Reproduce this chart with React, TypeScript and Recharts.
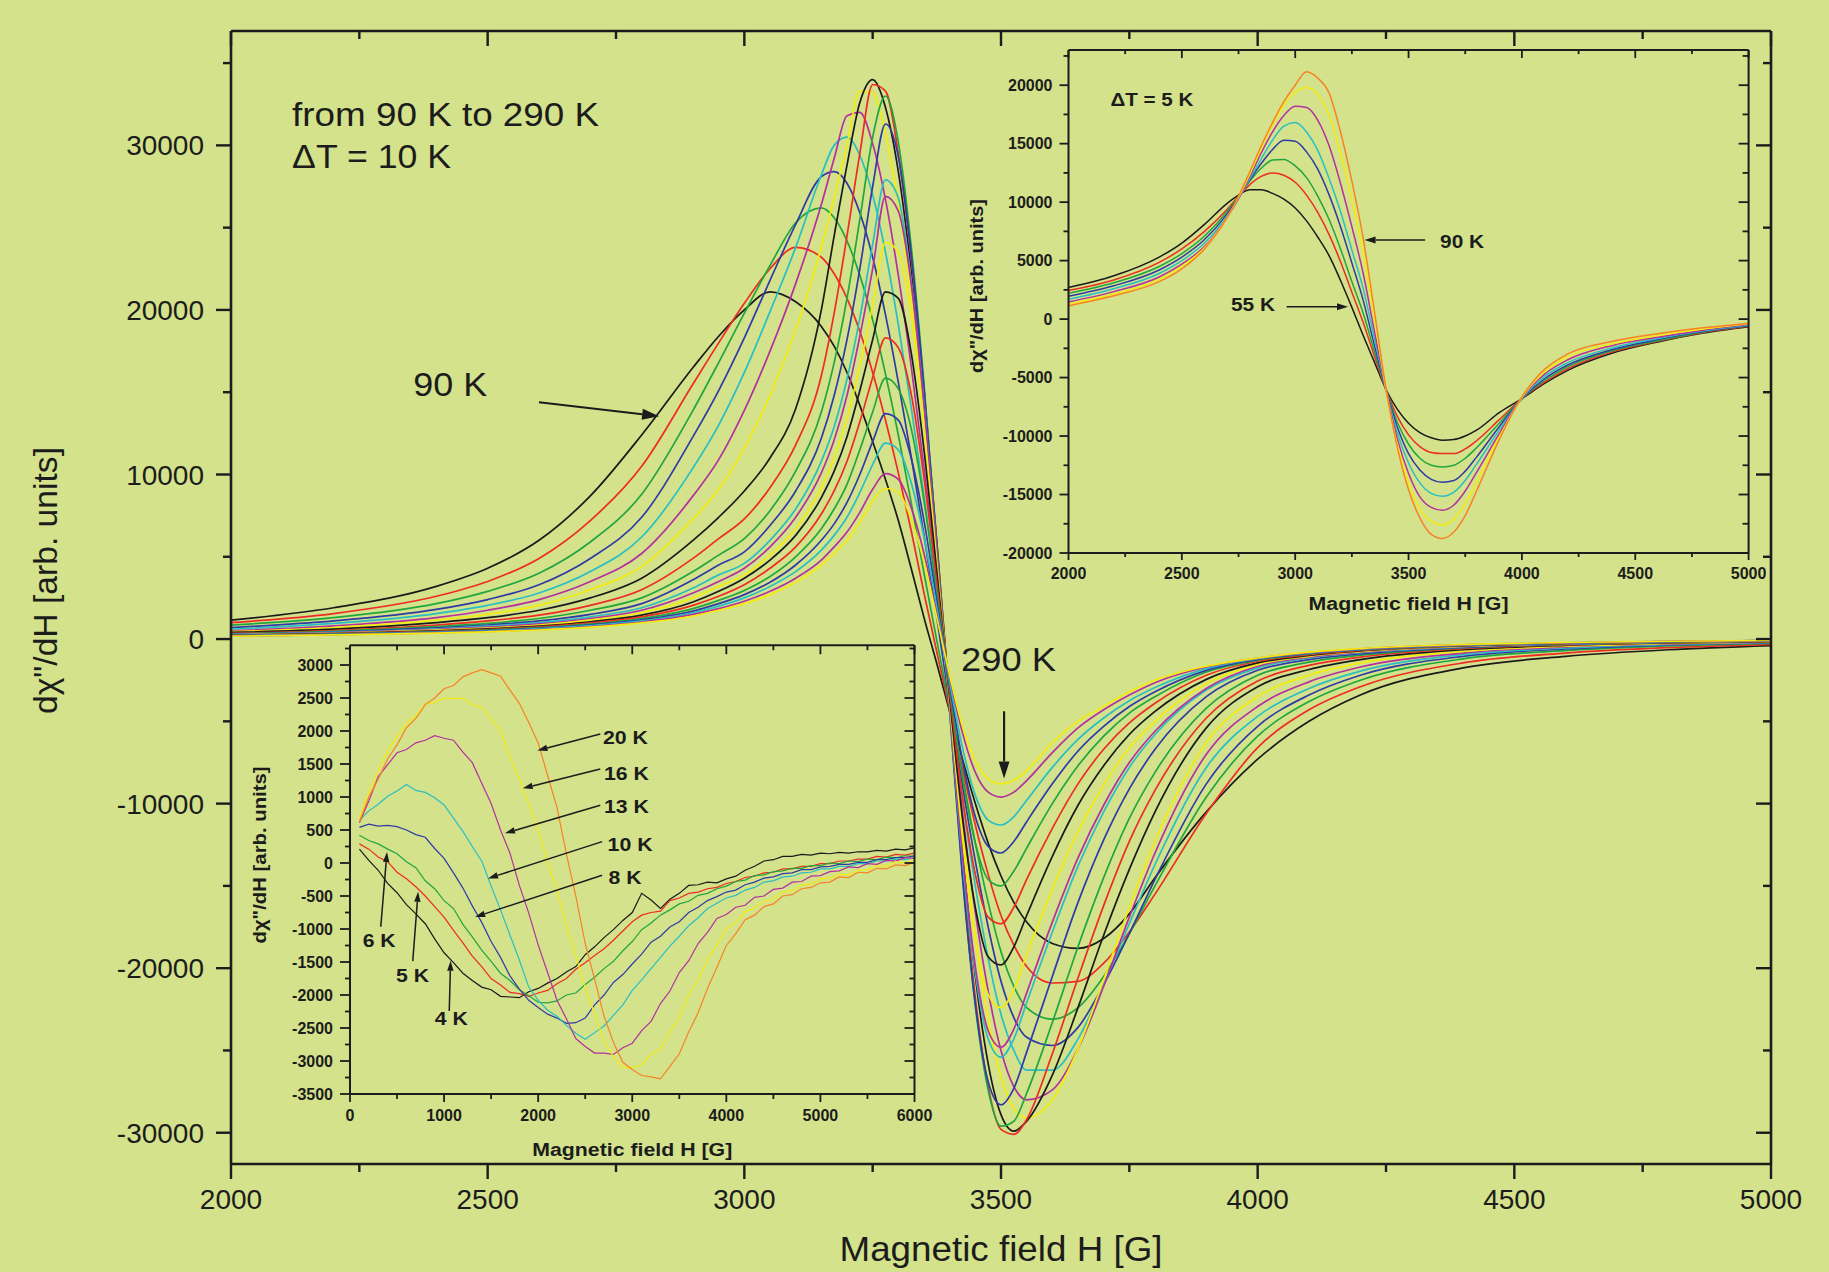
import React from 'react';
import { LineChart, Line, XAxis, YAxis, ReferenceLine, ReferenceDot } from 'recharts';

const BG = '#d3e28b';
const INK = '#1c1c1c';
const FONT = '"Liberation Sans", Arial, Helvetica, sans-serif';

const C_BLACK = '#1a1a1a';
const C_RED = '#ee2b24';
const C_GREEN = '#21a63f';
const C_BLUE = '#2f3aa6';
const C_CYAN = '#28bfc4';
const C_MAGENTA = '#b5309f';
const C_YELLOW = '#f4ec0c';
const C_ORANGE = '#f98224';

// ---------------- main chart data (90 K .. 290 K, step 10 K) ----------------
const mainField = [2000, 2200, 2400, 2500, 2600, 2700, 2800, 2900, 2950, 3000, 3050, 3100, 3150, 3175, 3200, 3225, 3250, 3275, 3300, 3325, 3350, 3375, 3400, 3425, 3450, 3475, 3500, 3525, 3550, 3600, 3650, 3700, 3750, 3800, 3900, 4000, 4100, 4200, 4400, 4600, 4800, 5000];
const t90 = [1150, 1900, 3200, 4300, 6000, 8700, 12400, 16500, 18400, 20000, 21100, 20500, 19000, 17800, 16200, 14200, 12000, 9700, 7200, 4300, 1300, -1500, -4400, -7300, -10000, -12400, -14400, -16000, -17200, -18500, -18800, -18200, -16700, -14500, -10500, -7300, -5000, -3400, -1750, -1050, -650, -400];
const t100 = [1000, 1550, 2600, 3500, 4900, 7200, 10500, 15500, 18000, 20400, 22500, 23800, 23200, 22200, 20700, 18700, 16200, 13300, 10100, 6600, 2800, -800, -4300, -7900, -11300, -14300, -16800, -18600, -19900, -20900, -20800, -19700, -17800, -15500, -10600, -6600, -4300, -2900, -1450, -850, -520, -320];
const t110 = [850, 1300, 2150, 2900, 4000, 5900, 8800, 13900, 16800, 19800, 22700, 25300, 26200, 25600, 24200, 22100, 19400, 16100, 12400, 8300, 4000, -100, -4100, -8300, -12400, -16000, -19000, -21100, -22400, -23100, -22400, -20500, -17900, -15000, -9600, -5900, -3800, -2500, -1200, -700, -420, -260];
const t120 = [700, 1100, 1800, 2400, 3300, 4900, 7400, 12300, 15100, 18300, 21800, 25200, 28100, 28400, 27700, 25900, 23200, 19700, 15600, 11100, 6300, 1300, -3900, -8900, -13500, -17500, -20800, -23000, -24200, -24700, -23600, -21000, -17900, -14600, -8800, -5300, -3400, -2200, -1050, -600, -360, -220];
const t130 = [600, 950, 1550, 2050, 2800, 4100, 6200, 10400, 13000, 16200, 19900, 23800, 28200, 30000, 30500, 29400, 27000, 23500, 19100, 14100, 8700, 2900, -3800, -9800, -15000, -19400, -22800, -25000, -26200, -26200, -24300, -21000, -17300, -13700, -7800, -4700, -3000, -1950, -950, -540, -320, -200];
const t140 = [500, 800, 1300, 1750, 2400, 3500, 5200, 8700, 10900, 13900, 17500, 21600, 26400, 29200, 31800, 32000, 30100, 26700, 22100, 16600, 10400, 3800, -3700, -10600, -16600, -21400, -25000, -27200, -28000, -27400, -24900, -21100, -16900, -13000, -7000, -4100, -2600, -1700, -850, -480, -290, -180];
const t150 = [450, 700, 1150, 1500, 2050, 3000, 4400, 7300, 9100, 11600, 14800, 18800, 23800, 26800, 30000, 33300, 33200, 30700, 26500, 20800, 14000, 5600, -3600, -11600, -18100, -23100, -26600, -28500, -29100, -28000, -24900, -20700, -16300, -12300, -6300, -3500, -2200, -1450, -750, -430, -270, -170];
const t160 = [400, 600, 1000, 1300, 1750, 2500, 3700, 6000, 7400, 9000, 11000, 14000, 20000, 24500, 28800, 32600, 34000, 32300, 28400, 22400, 14800, 5900, -3800, -13000, -20500, -25800, -28900, -29900, -29300, -26500, -22400, -18000, -14000, -10500, -5400, -2900, -1850, -1250, -650, -380, -240, -150];
const t170 = [350, 520, 850, 1100, 1450, 2050, 3000, 4900, 6100, 7300, 9200, 11800, 16000, 19800, 24500, 29500, 33700, 33300, 29500, 23200, 15200, 5800, -4000, -13800, -21800, -27200, -29800, -30100, -29200, -25200, -20600, -16200, -12300, -9200, -4800, -2550, -1600, -1100, -580, -350, -220, -140];
const t180 = [320, 470, 750, 950, 1250, 1750, 2500, 4100, 5100, 6100, 7800, 10200, 13800, 16800, 20700, 25500, 30500, 33000, 30200, 23900, 15500, 5600, -4200, -14300, -22300, -27400, -29600, -29300, -27600, -23300, -18700, -14500, -10900, -8100, -4200, -2200, -1400, -980, -530, -320, -200, -130];
const t190 = [300, 430, 680, 850, 1100, 1500, 2150, 3600, 4500, 5300, 6900, 9000, 12200, 14800, 18200, 22500, 27500, 31300, 29300, 23400, 15200, 5500, -4400, -14500, -22200, -26900, -28300, -27300, -25100, -20500, -16000, -12200, -9100, -6700, -3500, -1900, -1250, -900, -500, -300, -190, -120];
const t200 = [280, 400, 620, 780, 1000, 1350, 1900, 3100, 3900, 4600, 6000, 7900, 10800, 12900, 15800, 19500, 24000, 27900, 26800, 21800, 14300, 5200, -4200, -13400, -20300, -24300, -25400, -24300, -22100, -17800, -13800, -10500, -7800, -5800, -3100, -1750, -1150, -830, -470, -290, -180, -115];
const t210 = [260, 380, 580, 720, 920, 1250, 1750, 2800, 3500, 4300, 5600, 7400, 10100, 12100, 14800, 18400, 22500, 26900, 26000, 21600, 14200, 5100, -4100, -13100, -19900, -23800, -24800, -23700, -21500, -17200, -13300, -10100, -7500, -5600, -3000, -1650, -1100, -800, -450, -280, -175, -110];
const t220 = [240, 350, 540, 670, 850, 1150, 1600, 2500, 3200, 3900, 5100, 6700, 9200, 11000, 13400, 16600, 20300, 24100, 23500, 19700, 13000, 4700, -3900, -12100, -18200, -21600, -22400, -21300, -19200, -15200, -11700, -8900, -6600, -5000, -2700, -1550, -1050, -760, -430, -270, -170, -105];
const t230 = [230, 330, 500, 620, 790, 1050, 1450, 2250, 2900, 3700, 4800, 6300, 8600, 10200, 12300, 15100, 18200, 21100, 20700, 17400, 11500, 4100, -3600, -10900, -16300, -19300, -19800, -18700, -16800, -13200, -10100, -7700, -5800, -4400, -2450, -1450, -1000, -720, -410, -260, -165, -100];
const t240 = [220, 310, 470, 580, 740, 980, 1350, 2050, 2600, 3300, 4300, 5600, 7600, 9000, 10800, 13200, 15900, 18300, 17700, 14900, 9800, 3400, -3300, -9600, -14300, -16900, -17300, -16300, -14600, -11500, -8800, -6700, -5100, -3900, -2200, -1350, -950, -690, -400, -250, -160, -100];
const t250 = [210, 300, 440, 540, 690, 910, 1250, 1850, 2350, 2950, 3800, 5000, 6700, 7900, 9400, 11500, 13800, 15850, 15200, 12800, 8400, 2800, -3000, -8400, -12400, -14600, -15000, -14100, -12700, -10000, -7700, -5900, -4500, -3500, -2000, -1280, -900, -660, -385, -245, -155, -95];
const t260 = [200, 290, 420, 510, 650, 860, 1170, 1700, 2150, 2700, 3450, 4500, 6000, 7000, 8300, 10000, 12000, 13700, 13300, 11000, 7200, 2300, -2800, -7400, -10800, -12600, -13000, -12300, -11100, -8800, -6800, -5300, -4100, -3200, -1900, -1230, -870, -640, -375, -240, -150, -95];
const t270 = [190, 270, 400, 490, 620, 810, 1100, 1600, 2000, 2500, 3200, 4100, 5400, 6300, 7400, 8900, 10600, 11900, 11500, 9500, 6200, 1900, -2600, -6600, -9500, -11000, -11300, -10800, -9800, -7800, -6100, -4800, -3750, -2950, -1800, -1190, -850, -620, -365, -235, -150, -90];
const t280 = [180, 260, 380, 460, 580, 760, 1030, 1500, 1850, 2300, 2900, 3700, 4800, 5600, 6500, 7700, 9100, 10050, 9700, 8000, 5200, 1500, -2300, -5700, -8100, -9300, -9600, -9300, -8600, -6900, -5400, -4300, -3400, -2650, -1700, -1160, -830, -600, -350, -230, -145, -90];
const t290 = [170, 250, 360, 440, 550, 720, 980, 1400, 1750, 2150, 2700, 3450, 4500, 5200, 6000, 7100, 8400, 9150, 8900, 7300, 4700, 1300, -2200, -5300, -7400, -8500, -8800, -8600, -8000, -6300, -5000, -4100, -3200, -2500, -1650, -1150, -800, -580, -330, -210, -135, -85];

const mainTemps = [90, 100, 110, 120, 130, 140, 150, 160, 170, 180, 190, 200, 210, 220, 230, 240, 250, 260, 270, 280, 290];
const mainValues = [t90, t100, t110, t120, t130, t140, t150, t160, t170, t180, t190, t200, t210, t220, t230, t240, t250, t260, t270, t280, t290];
const cycle7 = [C_BLACK, C_RED, C_GREEN, C_BLUE, C_CYAN, C_MAGENTA, C_YELLOW];

const mainXTicks = [2000, 2250, 2500, 2750, 3000, 3250, 3500, 3750, 4000, 4250, 4500, 4750, 5000];
const mainYTicks = [-30000, -25000, -20000, -15000, -10000, -5000, 0, 5000, 10000, 15000, 20000, 25000, 30000, 35000];

// ---------------- top-right inset (55 K .. 90 K, step 5 K) ----------------
const insetField = [2000, 2200, 2400, 2500, 2600, 2700, 2750, 2800, 2850, 2900, 2950, 3000, 3050, 3100, 3150, 3200, 3250, 3300, 3350, 3400, 3450, 3500, 3550, 3600, 3650, 3700, 3750, 3800, 3900, 4000, 4100, 4200, 4400, 4600, 4800, 5000];
const i55 = [2700, 3700, 5300, 6500, 8100, 9900, 10600, 11050, 11050, 10750, 10250, 9500, 8400, 7000, 5400, 3300, 1000, -1400, -3700, -6000, -7700, -8900, -9700, -10150, -10350, -10300, -10000, -9500, -8000, -6800, -5500, -4400, -2900, -1950, -1200, -650];
const i60 = [2450, 3350, 4850, 6000, 7500, 9400, 10500, 11500, 12200, 12500, 12300, 11700, 10600, 9100, 7200, 4900, 2300, -300, -3200, -6000, -8300, -9900, -10900, -11400, -11500, -11500, -11100, -10400, -8600, -6800, -5400, -4250, -2800, -1900, -1150, -620];
const i65 = [2200, 3100, 4500, 5600, 7100, 9200, 10500, 11800, 12900, 13600, 13650, 13100, 12100, 10500, 8500, 6000, 3200, 500, -2800, -6000, -8800, -10700, -11900, -12500, -12650, -12500, -11900, -11000, -8900, -6800, -5250, -4100, -2700, -1850, -1100, -580];
const i70 = [1960, 2850, 4200, 5300, 6800, 9000, 10400, 11900, 13300, 14500, 15300, 15200, 14300, 12800, 10600, 7900, 4800, 1600, -2300, -6000, -9200, -11500, -12900, -13700, -13950, -13800, -13000, -11800, -9200, -6800, -5100, -3950, -2600, -1750, -1050, -540];
const i75 = [1700, 2600, 3900, 5000, 6500, 8800, 10300, 12000, 13700, 15300, 16500, 16800, 16000, 14400, 12000, 9200, 5900, 2600, -1700, -6000, -9700, -12300, -14000, -14900, -15150, -14800, -13800, -12400, -9500, -6750, -4900, -3750, -2450, -1650, -1000, -500];
const i80 = [1470, 2350, 3600, 4700, 6200, 8700, 10300, 12200, 14200, 16000, 17400, 18200, 18100, 17000, 14800, 11600, 7900, 3900, -1100, -6000, -10200, -13200, -15200, -16100, -16350, -15900, -14700, -13100, -9800, -6700, -4700, -3500, -2250, -1550, -950, -450];
const i85 = [1300, 2150, 3400, 4500, 6100, 8700, 10400, 12400, 14600, 16600, 18300, 19400, 19800, 19200, 17400, 14200, 10200, 5700, 0, -6000, -10700, -14000, -16200, -17300, -17600, -17100, -15800, -13900, -10100, -6700, -4500, -3250, -2100, -1400, -850, -400];
const i90 = [1150, 2000, 3200, 4300, 6000, 8700, 10500, 12600, 14800, 16800, 18600, 20000, 21150, 20600, 19300, 16000, 11800, 6900, 600, -5900, -10900, -14600, -17000, -18400, -18750, -18200, -16800, -14700, -10300, -6650, -4300, -3000, -1900, -1250, -750, -350];
const insetTemps = [55, 60, 65, 70, 75, 80, 85, 90];
const insetValues = [i55, i60, i65, i70, i75, i80, i85, i90];
const insetColors = [C_BLACK, C_RED, C_GREEN, C_BLUE, C_CYAN, C_MAGENTA, C_YELLOW, C_ORANGE];
const insetXTicks = [2000, 2250, 2500, 2750, 3000, 3250, 3500, 3750, 4000, 4250, 4500, 4750, 5000];
const insetYTicks = [-20000, -17500, -15000, -12500, -10000, -7500, -5000, -2500, 0, 2500, 5000, 7500, 10000, 12500, 15000, 17500, 20000, 22500];

// ---------------- bottom-left inset (4 K .. 20 K) ----------------
const lowField = [100, 200, 300, 400, 500, 600, 700, 800, 900, 1000, 1100, 1200, 1300, 1400, 1500, 1600, 1700, 1800, 1900, 2000, 2100, 2200, 2300, 2400, 2500, 2600, 2700, 2800, 2900, 3000, 3100, 3200, 3300, 3400, 3500, 3600, 3700, 3800, 3900, 4000, 4100, 4200, 4300, 4400, 4500, 4600, 4700, 4800, 4900, 5000, 5100, 5200, 5300, 5400, 5500, 5600, 5700, 5800, 5900, 6000];
const l4 = [210, 40, -110, -310, -450, -630, -770, -920, -1150, -1360, -1510, -1670, -1780, -1880, -1920, -2020, -2030, -2040, -1950, -1900, -1820, -1750, -1650, -1570, -1390, -1270, -1130, -1010, -870, -750, -460, -560, -690, -550, -460, -340, -330, -290, -300, -240, -200, -110, -50, 30, 50, 100, 100, 130, 120, 150, 140, 160, 150, 170, 170, 190, 180, 210, 200, 230];
const l5 = [290, 210, 90, 20, -140, -240, -360, -500, -660, -820, -1020, -1210, -1410, -1570, -1750, -1850, -1960, -1980, -2020, -1970, -1930, -1830, -1750, -1610, -1510, -1400, -1300, -1170, -1030, -890, -790, -750, -730, -570, -530, -460, -440, -390, -370, -310, -280, -220, -200, -150, -140, -90, -90, -50, -50, -10, -10, 30, 30, 60, 60, 100, 90, 130, 120, 150];
const l6 = [420, 340, 290, 210, 140, 20, -70, -270, -390, -570, -690, -930, -1120, -1320, -1490, -1670, -1780, -1920, -2010, -2110, -2120, -2090, -2000, -1970, -1840, -1730, -1600, -1490, -1330, -1190, -1010, -910, -790, -710, -620, -580, -490, -460, -390, -350, -280, -260, -190, -180, -130, -120, -80, -80, -40, -40, 0, -10, 30, 20, 60, 50, 90, 80, 110, 100];
const l8 = [540, 590, 560, 570, 550, 500, 430, 390, 220, 70, -150, -380, -650, -900, -1190, -1430, -1710, -1910, -2080, -2190, -2290, -2350, -2430, -2420, -2350, -2150, -2000, -1810, -1690, -1530, -1380, -1200, -1110, -970, -890, -750, -670, -570, -510, -440, -410, -330, -290, -230, -210, -160, -150, -100, -100, -60, -50, -20, -20, 10, 10, 50, 50, 80, 80, 110];
const l10 = [650, 790, 890, 1010, 1090, 1190, 1100, 1070, 990, 880, 680, 480, 250, 30, -350, -710, -1090, -1470, -1880, -2080, -2230, -2320, -2460, -2580, -2670, -2570, -2470, -2310, -2150, -1930, -1770, -1600, -1430, -1260, -1110, -950, -830, -690, -610, -530, -490, -410, -370, -290, -270, -210, -200, -150, -140, -90, -90, -50, -50, -10, -10, 30, 30, 60, 50, 80];
const l13 = [610, 940, 1310, 1490, 1670, 1720, 1820, 1860, 1930, 1890, 1860, 1680, 1520, 1210, 900, 500, 150, -340, -760, -1240, -1660, -2080, -2360, -2660, -2780, -2880, -2880, -2900, -2800, -2730, -2540, -2400, -2130, -1940, -1660, -1480, -1220, -1050, -840, -780, -670, -640, -520, -500, -400, -380, -290, -280, -200, -190, -130, -120, -60, -70, -10, -20, 40, 30, 80, 70];
const l16 = [660, 1060, 1400, 1700, 1910, 2120, 2230, 2410, 2430, 2500, 2490, 2500, 2400, 2360, 2180, 2000, 1600, 1270, 890, 490, 10, -400, -940, -1400, -1900, -2280, -2700, -2930, -3100, -3100, -3060, -2900, -2820, -2560, -2340, -2000, -1780, -1460, -1240, -1000, -900, -740, -680, -580, -550, -440, -420, -330, -320, -240, -230, -170, -180, -110, -100, -40, -50, 20, 0, 50];
const l20 = [620, 1000, 1270, 1580, 1790, 2050, 2190, 2400, 2500, 2640, 2690, 2820, 2880, 2930, 2880, 2830, 2620, 2420, 2130, 1820, 1330, 840, 140, -500, -1220, -1760, -2320, -2720, -3020, -3130, -3220, -3240, -3270, -3080, -2890, -2560, -2270, -1900, -1580, -1250, -1070, -860, -790, -660, -620, -500, -480, -390, -370, -300, -290, -210, -220, -140, -150, -80, -90, -30, -40, 10];
const lowTemps = [4, 5, 6, 8, 10, 13, 16, 20];
const lowValues = [l4, l5, l6, l8, l10, l13, l16, l20];
const lowColors = [C_BLACK, C_RED, C_GREEN, C_BLUE, C_CYAN, C_MAGENTA, C_YELLOW, C_ORANGE];
const lowXTicks = [0, 500, 1000, 1500, 2000, 2500, 3000, 3500, 4000, 4500, 5000, 5500, 6000];
const lowYTicks = [-3500, -3250, -3000, -2750, -2500, -2250, -2000, -1750, -1500, -1250, -1000, -750, -500, -250, 0, 250, 500, 750, 1000, 1250, 1500, 1750, 2000, 2250, 2500, 2750, 3000, 3250];

// ---------------- helpers ----------------
function buildRows(field: number[], temps: number[], values: number[][]) {
  return field.map((h, i) => {
    const r: Record<string, number> = { h };
    temps.forEach((t, k) => {
      r['k' + t] = values[k][i];
    });
    return r;
  });
}

const mainRows = buildRows(mainField, mainTemps, mainValues);
const insetRows = buildRows(insetField, insetTemps, insetValues);
const lowRows = buildRows(lowField, lowTemps, lowValues);

type Side = 'left' | 'right' | 'top' | 'bottom';
function makeTick(side: Side, isMajor: (v: number) => boolean, majorLen: number, minorLen: number, showLabel: boolean, fontSize: number, bold: boolean, labelOffset: number, sw: number) {
  return (props: any) => {
    const x = Number(props.x);
    const y = Number(props.y);
    const v = Number(props.payload && props.payload.value);
    const major = isMajor(v);
    const len = major ? majorLen : minorLen;
    let x2 = x;
    let y2 = y;
    if (side === 'left' || side === 'right') x2 = x - len;
    if (side === 'top' || side === 'bottom') y2 = y + len;
    let label: React.ReactNode = null;
    if (showLabel && major) {
      if (side === 'left') {
        label = (
          <text x={x - labelOffset} y={y} dy="0.36em" textAnchor="end" fontSize={fontSize} fontWeight={bold ? 700 : 400} fontFamily={FONT} fill={INK}>
            {String(v)}
          </text>
        );
      } else {
        label = (
          <text x={x} y={y + labelOffset} textAnchor="middle" fontSize={fontSize} fontWeight={bold ? 700 : 400} fontFamily={FONT} fill={INK}>
            {String(v)}
          </text>
        );
      }
    }
    return (
      <g>
        <line x1={x} y1={y} x2={x2} y2={y2} stroke={INK} strokeWidth={sw} />
        {label}
      </g>
    );
  };
}

function textShape(txt: string, size: number, bold: boolean, width: number) {
  return (p: any) => (
    <text x={p.cx} y={p.cy} fontSize={size} fontWeight={bold ? 700 : 400} fontFamily={FONT} fill={INK} textLength={width} lengthAdjust="spacingAndGlyphs">
      {txt}
    </text>
  );
}

function arrowShape(head: number, sw: number) {
  return (p: any) => {
    const x1 = Number(p.x1);
    const y1 = Number(p.y1);
    const x2 = Number(p.x2);
    const y2 = Number(p.y2);
    const dx = x2 - x1;
    const dy = y2 - y1;
    const L = Math.hypot(dx, dy) || 1;
    const ux = dx / L;
    const uy = dy / L;
    const bx = x2 - ux * head;
    const by = y2 - uy * head;
    const w = head * 0.32;
    return (
      <g>
        <line x1={x1} y1={y1} x2={bx} y2={by} stroke={INK} strokeWidth={sw} />
        <polygon points={`${x2},${y2} ${bx - uy * w},${by + ux * w} ${bx + uy * w},${by - ux * w}`} fill={INK} />
      </g>
    );
  };
}

function xTitle(txt: string, size: number, bold: boolean, width: number, dy: number) {
  return (p: any) => {
    const vb = p.viewBox || { x: 0, y: 0, width: 0, height: 0 };
    return (
      <text x={vb.x + vb.width / 2} y={vb.y + dy} textAnchor="middle" fontSize={size} fontWeight={bold ? 700 : 400} fontFamily={FONT} fill={INK} textLength={width} lengthAdjust="spacingAndGlyphs">
        {txt}
      </text>
    );
  };
}

function yTitle(txt: string, size: number, bold: boolean, width: number, dx: number, dyc: number) {
  return (p: any) => {
    const vb = p.viewBox || { x: 0, y: 0, width: 0, height: 0 };
    const cx = vb.x + dx;
    const cy = vb.y + vb.height / 2 + dyc;
    return (
      <text x={cx} y={cy} transform={`rotate(-90 ${cx} ${cy})`} textAnchor="middle" fontSize={size} fontWeight={bold ? 700 : 400} fontFamily={FONT} fill={INK} textLength={width} lengthAdjust="spacingAndGlyphs">
        {txt}
      </text>
    );
  };
}

const Y_TITLE = 'd\u03C7"/dH [arb. units]';
const X_TITLE = 'Magnetic field H [G]';

// ---------------- main chart ----------------
function MainChart() {
  const axisLine = { stroke: INK, strokeWidth: 2.6 };
  const m5 = (v: number) => v % 500 === 0;
  const m10k = (v: number) => v % 10000 === 0;
  return (
    <LineChart width={1829} height={1272} data={mainRows} margin={{ top: 30, right: 57, bottom: 107, left: 230 }}>
      <XAxis dataKey="h" type="number" domain={[2000, 5000]} allowDataOverflow ticks={mainXTicks} interval={0} height={1} tickSize={0} tickMargin={0} tickLine={false} axisLine={axisLine} tick={makeTick('bottom', m5, 15, 8, true, 28, false, 45, 2.4)} label={xTitle(X_TITLE, 35, false, 323, 97)} />
      <XAxis xAxisId="top" orientation="top" dataKey="h" type="number" domain={[2000, 5000]} allowDataOverflow ticks={mainXTicks} interval={0} height={1} tickSize={0} tickMargin={0} tickLine={false} axisLine={axisLine} tick={makeTick('top', m5, 15, 8, false, 28, false, 0, 2.4)} />
      <YAxis type="number" domain={[-31900, 36950]} allowDataOverflow ticks={mainYTicks} interval={0} width={1} tickSize={0} tickMargin={0} tickLine={false} axisLine={axisLine} tick={makeTick('left', m10k, 15, 8, true, 28, false, 27, 2.4)} label={yTitle(Y_TITLE, 34, false, 267, -173, -17)} />
      <YAxis yAxisId="right" orientation="right" type="number" domain={[-31900, 36950]} allowDataOverflow ticks={mainYTicks} interval={0} width={1} tickSize={0} tickMargin={0} tickLine={false} axisLine={axisLine} tick={makeTick('right', m10k, 15, 8, false, 28, false, 0, 2.4)} />
      {mainTemps.map((t, k) => (
        <Line key={t} dataKey={'k' + t} type="monotone" stroke={cycle7[k % 7]} strokeWidth={1.7} dot={false} activeDot={false} isAnimationActive={false} />
      ))}
      <ReferenceDot x={2119} y={31204} r={1} shape={textShape('from 90 K to 290 K', 34, false, 307)} />
      <ReferenceDot x={2119} y={28651} r={1} shape={textShape('\u0394T = 10 K', 34, false, 159)} />
      <ReferenceDot x={2355} y={14789} r={1} shape={textShape('90 K', 34, false, 74)} />
      <ReferenceDot x={3422} y={-1930} r={1} shape={textShape('290 K', 34, false, 95)} />
      <ReferenceLine segment={[{ x: 2600, y: 14390 }, { x: 2834, y: 13540 }]} shape={arrowShape(17, 2.2)} />
      <ReferenceLine segment={[{ x: 3506, y: -4390 }, { x: 3506, y: -8470 }]} shape={arrowShape(17, 2.2)} />
    </LineChart>
  );
}

// ---------------- top-right inset ----------------
function InsetTop() {
  const axisLine = { stroke: INK, strokeWidth: 2 };
  const m5 = (v: number) => v % 500 === 0;
  const m5k = (v: number) => v % 5000 === 0;
  return (
    <LineChart width={1829} height={1272} data={insetRows} margin={{ top: 49.1, right: 79.4, bottom: 718, left: 1067.5 }}>
      <XAxis dataKey="h" type="number" domain={[2000, 5000]} allowDataOverflow ticks={insetXTicks} interval={0} height={1} tickSize={0} tickMargin={0} tickLine={false} axisLine={axisLine} tick={makeTick('bottom', m5, 7, 4, true, 16, true, 26, 1.8)} label={xTitle(X_TITLE, 18, true, 200, 57)} />
      <XAxis xAxisId="top" orientation="top" dataKey="h" type="number" domain={[2000, 5000]} allowDataOverflow ticks={insetXTicks} interval={0} height={1} tickSize={0} tickMargin={0} tickLine={false} axisLine={axisLine} tick={makeTick('top', m5, 8, 4, false, 16, true, 0, 1.8)} />
      <YAxis type="number" domain={[-20000, 23000]} allowDataOverflow ticks={insetYTicks} interval={0} width={1} tickSize={0} tickMargin={0} tickLine={false} axisLine={axisLine} tick={makeTick('left', m5k, 9, 5, true, 16, true, 16, 1.8)} label={yTitle(Y_TITLE, 18, true, 174, -84.5, -15.5)} />
      <YAxis yAxisId="right" orientation="right" type="number" domain={[-20000, 23000]} allowDataOverflow ticks={insetYTicks} interval={0} width={1} tickSize={0} tickMargin={0} tickLine={false} axisLine={axisLine} tick={makeTick('right', m5k, 10, 6, false, 16, true, 0, 1.8)} />
      {insetTemps.map((t, k) => (
        <Line key={t} dataKey={'k' + t} type="monotone" stroke={insetColors[k]} strokeWidth={1.5} dot={false} activeDot={false} isAnimationActive={false} />
      ))}
      <ReferenceDot x={2185} y={18221} r={1} shape={textShape('\u0394T = 5 K', 18, true, 83)} />
      <ReferenceDot x={3639} y={6080} r={1} shape={textShape('90 K', 18, true, 44)} />
      <ReferenceDot x={2717} y={727} r={1} shape={textShape('55 K', 18, true, 44)} />
      <ReferenceLine segment={[{ x: 3573, y: 6760 }, { x: 3306, y: 6760 }]} shape={arrowShape(11, 1.6)} />
      <ReferenceLine segment={[{ x: 2962, y: 1050 }, { x: 3233, y: 1050 }]} shape={arrowShape(11, 1.6)} />
    </LineChart>
  );
}

// ---------------- bottom-left inset ----------------
function InsetLow() {
  const axisLine = { stroke: INK, strokeWidth: 2 };
  const m1k = (v: number) => v % 1000 === 0;
  const m500 = (v: number) => v % 500 === 0;
  return (
    <LineChart width={1829} height={1272} data={lowRows} margin={{ top: 644.2, right: 913.5, bottom: 177, left: 349 }}>
      <XAxis dataKey="h" type="number" domain={[0, 6000]} allowDataOverflow ticks={lowXTicks} interval={0} height={1} tickSize={0} tickMargin={0} tickLine={false} axisLine={axisLine} tick={makeTick('bottom', m1k, 8, 5, true, 16, true, 27, 1.8)} label={xTitle(X_TITLE, 18, true, 200, 62)} />
      <XAxis xAxisId="top" orientation="top" dataKey="h" type="number" domain={[0, 6000]} allowDataOverflow ticks={lowXTicks} interval={0} height={1} tickSize={0} tickMargin={0} tickLine={false} axisLine={axisLine} tick={makeTick('top', m1k, 9, 5, false, 16, true, 0, 1.8)} />
      <YAxis type="number" domain={[-3500, 3300]} allowDataOverflow ticks={lowYTicks} interval={0} width={1} tickSize={0} tickMargin={0} tickLine={false} axisLine={axisLine} tick={makeTick('left', m500, 10, 5, true, 16, true, 17, 1.8)} label={yTitle(Y_TITLE, 18, true, 177, -83, -14.6)} />
      <YAxis yAxisId="right" orientation="right" type="number" domain={[-3500, 3300]} allowDataOverflow ticks={lowYTicks} interval={0} width={1} tickSize={0} tickMargin={0} tickLine={false} axisLine={axisLine} tick={makeTick('right', m500, 10, 5, false, 16, true, 0, 1.8)} />
      {lowTemps.map((t, k) => (
        <Line key={t} dataKey={'k' + t} type="linear" stroke={lowColors[k]} strokeWidth={1.2} dot={false} activeDot={false} isAnimationActive={false} />
      ))}
      <ReferenceDot x={2689} y={1803} r={1} shape={textShape('20 K', 18, true, 45)} />
      <ReferenceDot x={2700} y={1258} r={1} shape={textShape('16 K', 18, true, 45)} />
      <ReferenceDot x={2700} y={758} r={1} shape={textShape('13 K', 18, true, 45)} />
      <ReferenceDot x={2738} y={185} r={1} shape={textShape('10 K', 18, true, 45)} />
      <ReferenceDot x={2748} y={-318} r={1} shape={textShape('8 K', 18, true, 33)} />
      <ReferenceDot x={135} y={-1276} r={1} shape={textShape('6 K', 18, true, 33)} />
      <ReferenceDot x={489} y={-1808} r={1} shape={textShape('5 K', 18, true, 33)} />
      <ReferenceDot x={901} y={-2461} r={1} shape={textShape('4 K', 18, true, 33)} />
      <ReferenceLine segment={[{ x: 2660, y: 1954 }, { x: 1992, y: 1705 }]} shape={arrowShape(10, 1.5)} />
      <ReferenceLine segment={[{ x: 2660, y: 1423 }, { x: 1836, y: 1131 }]} shape={arrowShape(10, 1.5)} />
      <ReferenceLine segment={[{ x: 2660, y: 876 }, { x: 1647, y: 451 }]} shape={arrowShape(10, 1.5)} />
      <ReferenceLine segment={[{ x: 2680, y: 324 }, { x: 1467, y: -234 }]} shape={arrowShape(10, 1.5)} />
      <ReferenceLine segment={[{ x: 2680, y: -186 }, { x: 1330, y: -818 }]} shape={arrowShape(10, 1.5)} />
      <ReferenceLine segment={[{ x: 327, y: -966 }, { x: 393, y: 165 }]} shape={arrowShape(10, 1.5)} />
      <ReferenceLine segment={[{ x: 667, y: -1487 }, { x: 724, y: -435 }]} shape={arrowShape(10, 1.5)} />
      <ReferenceLine segment={[{ x: 1055, y: -2241 }, { x: 1069, y: -1481 }]} shape={arrowShape(10, 1.5)} />
    </LineChart>
  );
}

export default function App() {
  return (
    <div style={{ position: 'relative', width: 1829, height: 1272, background: BG, overflow: 'hidden', fontFamily: FONT }}>
      <style>{'html,body{margin:0;padding:0;background:' + BG + ';}'}</style>
      <div style={{ position: 'absolute', left: 0, top: 0 }}>
        <MainChart />
      </div>
      <div style={{ position: 'absolute', left: 0, top: 0 }}>
        <InsetTop />
      </div>
      <div style={{ position: 'absolute', left: 0, top: 0 }}>
        <InsetLow />
      </div>
    </div>
  );
}
